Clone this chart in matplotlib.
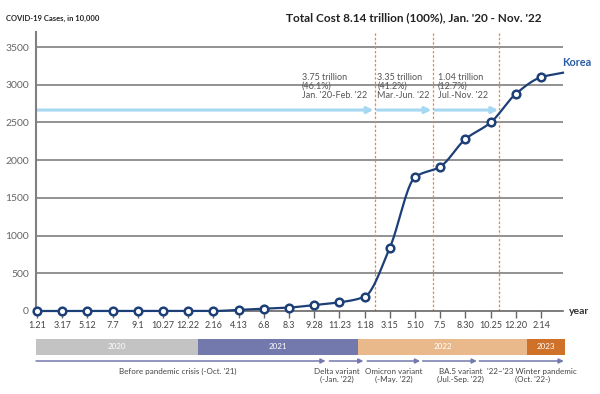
"""Korea COVID-19 cumulative cases vs. cost phases, Jan. '20 - Nov. '22."""

import matplotlib.pyplot as plt
import numpy as np
from matplotlib.patches import FancyArrowPatch

plt.rcParams["font.family"] = ["Lato", "DejaVu Sans"]

# ---- data ---------------------------------------------------------------
date_labels = ["1.21", "3.17", "5.12", "7.7", "9.1", "10.27", "12.22",
               "2.16", "4.13", "6.8", "8.3", "9.28", "11.23", "1.18",
               "3.15", "5.10", "7.5", "8.30", "10.25", "12.20", "2.14"]
cases = [0, 0, 0, 0, 0, 0, 0, 0, 15, 30, 45, 80, 115, 190,
         840, 1775, 1915, 2280, 2500, 2880, 3100]
# line runs on past the last marker up to the edge of the plot
tail_x, tail_value = 20.87, 3160

cost_bounds = [13.4, 15.7, 18.35]
cost_texts = ["3.75 trillion\n(46.1%)\nJan. '20-Feb. '22",
              "3.35 trillion\n(41.2%)\nMar.-Jun. '22",
              "1.04 trillion\n(12.7%)\nJul.-Nov. '22"]
cost_text_x = [10.5, 13.5, 15.9]

years = ["2020", "2021", "2022", "2023"]
year_start = [-0.04, 6.39, 12.74, 19.44]
year_end = [6.39, 12.74, 19.44, 20.95]
year_colors = ["#c3c3c3", "#7479ad", "#e9b98c", "#d0712a"]

phases = ["Before pandemic crisis (-Oct. '21)", "Delta variant\n(-Jan. '22)",
          "Omicron variant\n(-May. '22)", "BA.5 variant\n(Jul.-Sep. '22)",
          "'22~'23 Winter pandemic\n(Oct. '22-)"]
phase_start = [-0.04, 11.6, 13.1, 15.3, 17.55]
phase_end = [11.45, 12.95, 15.2, 17.45, 20.9]
phase_text_x = [5.6, 11.9, 14.15, 16.8, 19.65]

NAVY = "#1d3f78"
GRID = "#7f7f7f"
XMIN, XMAX = -0.04, 20.87


def smooth_path(x, y, n=20):
    """Monotone cubic (Fritsch-Carlson) drawing path through the points."""
    x = np.asarray(x, float)
    y = np.asarray(y, float)
    h = np.diff(x)
    d = np.diff(y) / h
    m = np.zeros_like(y)
    m[0], m[-1] = d[0], d[-1]
    for i in range(1, len(y) - 1):
        if d[i - 1] * d[i] > 0:
            w1 = 2 * h[i] + h[i - 1]
            w2 = h[i] + 2 * h[i - 1]
            m[i] = (w1 + w2) / (w1 / d[i - 1] + w2 / d[i])
    xs, ys = [], []
    for i in range(len(x) - 1):
        t = np.linspace(0, 1, n, endpoint=False)
        h00 = 2 * t**3 - 3 * t**2 + 1
        h10 = t**3 - 2 * t**2 + t
        h01 = -2 * t**3 + 3 * t**2
        h11 = t**3 - t**2
        xs.append(x[i] + t * h[i])
        ys.append(h00 * y[i] + h10 * h[i] * m[i] + h01 * y[i + 1] + h11 * h[i] * m[i + 1])
    xs.append([x[-1]])
    ys.append([y[-1]])
    return np.concatenate(xs), np.concatenate(ys)


fig = plt.figure(figsize=(6.0, 3.94), dpi=100)
ax = fig.add_axes([36 / 600, 1 - 311 / 394, (563 - 36) / 600, (311 - 32) / 394])

xi = np.arange(len(cases))
for v in range(500, 3501, 500):
    ax.axhline(v, color=GRID, lw=1.2, zorder=1)

for xb in cost_bounds:
    ax.axvline(xb, color="#ea8740", lw=0.9, ls=(0, (2, 1.5)), zorder=2)

# light blue cost arrows
starts = [XMIN] + [b + 0.1 for b in cost_bounds[:-1]]
for s, e in zip(starts, cost_bounds):
    ax.add_patch(FancyArrowPatch((s, 2665), (e - 0.05, 2665), arrowstyle="-|>",
                                 mutation_scale=9, color="#a6d8f2", lw=2.2,
                                 shrinkA=0, shrinkB=0, zorder=2))
for tx, txt in zip(cost_text_x, cost_texts):
    ax.text(tx, 3160, txt, fontsize=6.5, color="#555555", va="top", ha="left",
            linespacing=1.0, zorder=3)

lx, ly = smooth_path(list(xi) + [tail_x], cases + [tail_value])
ax.plot(lx, ly, color=NAVY, lw=1.6, zorder=4, clip_on=False)
ax.plot(xi, cases, ls="none", marker="o", ms=5.5, mfc="white", mec=NAVY,
        mew=1.8, zorder=5, clip_on=False)
ax.text(XMAX - 0.05, 3290, "Korea", color="#2a5ba6", fontsize=7.8,
        fontweight="bold", ha="left", va="center")

ax.set_xlim(XMIN, XMAX)
ax.set_ylim(0, 3700)
ax.set_yticks(range(0, 3501, 500))
ax.tick_params(axis="y", length=0, labelsize=7.5, labelcolor="#666666", pad=5)
ax.set_xticks(xi)
ax.set_xticklabels(date_labels)
ax.tick_params(axis="x", length=5, width=1, color="#666666", labelsize=6.5,
               labelcolor="#444444", pad=2)
for side in ("top", "right"):
    ax.spines[side].set_visible(False)
ax.spines["left"].set_color(GRID)
ax.spines["left"].set_linewidth(1.5)
ax.spines["bottom"].set_color("#666666")
ax.spines["bottom"].set_linewidth(1.2)
ax.text(XMAX + 0.25, 0, "year", fontsize=7.5, fontweight="bold",
        color="#333333", ha="left", va="center")

fig.text(6 / 600, 1 - 18 / 394, "COVID-19 Cases, in 10,000", fontsize=5.5,
         fontweight="bold", color="#222222", va="center")
fig.text(286 / 600, 1 - 18 / 394,
         "Total Cost 8.14 trillion (100%), Jan. '20 - Nov. '22",
         fontsize=8.5, fontweight="bold", color="#222222", va="center")

# ---- timeline below -------------------------------------------------------
tl = fig.add_axes([36 / 600, 0, (563 - 36) / 600, 1 - 334 / 394])
tl.set_xlim(XMIN, XMAX)
tl.set_ylim(394, 334)  # pixel-like rows, top to bottom
tl.axis("off")
for name, s, e, c in zip(years, year_start, year_end, year_colors):
    tl.barh(347, e - s, left=s, height=16, color=c, clip_on=False)
    tl.text((s + e) / 2, 347, name, color="white", fontsize=5.8,
            ha="center", va="center")
for s, e in zip(phase_start, phase_end):
    tl.add_patch(FancyArrowPatch((s, 361), (e, 361), arrowstyle="-|>",
                                 mutation_scale=7, color="#7479ad", lw=1.1,
                                 shrinkA=0, shrinkB=0, clip_on=False))
for tx, txt in zip(phase_text_x, phases):
    tl.text(tx, 368, txt, fontsize=5.8, color="#444444", ha="center",
            va="top", linespacing=1.1)

fig.savefig("out.png", dpi=100)
